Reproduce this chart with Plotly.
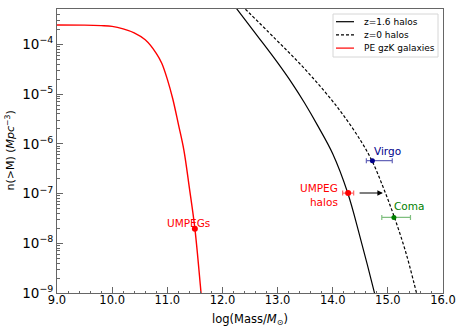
import numpy as np
import plotly.graph_objects as go

# curves (log10 mass, log10 n(>M))
gal_mass = [9.0, 9.5, 9.8, 10.0, 10.2, 10.4, 10.6, 10.8, 10.9, 11.0, 11.1, 11.2, 11.3, 11.4, 11.5, 11.6, 11.62]
gal_logn = [-3.612, -3.615, -3.625, -3.64, -3.69, -3.77, -3.91, -4.18, -4.38, -4.70, -5.10, -5.60, -6.12, -6.88, -7.70, -8.85, -9.1]

z16_mass = [12.2, 12.64, 13.0, 13.26, 13.49, 13.73, 14.0, 14.27, 14.49, 14.76, 14.8]
z16_logn = [-3.20, -3.84, -4.37, -4.78, -5.18, -5.64, -6.20, -6.98, -7.85, -9.01, -9.2]

z0_mass = [12.35, 12.95, 13.43, 13.855, 14.19, 14.52, 14.72, 14.91, 15.11, 15.33, 15.52, 15.56]
z0_logn = [-3.22, -3.88, -4.42, -4.95, -5.42, -5.96, -6.36, -6.86, -7.45, -8.2, -9.0, -9.17]

# points
umpeg_mass, umpeg_logn = 11.5, -7.71
halo_mass, halo_logn, halo_err = 14.28, -6.99, 0.1
virgo_mass, virgo_logn, virgo_lo, virgo_hi = 14.72, -6.34, 0.11, 0.36
coma_mass, coma_logn, coma_lo, coma_hi = 15.11, -7.48, 0.22, 0.30
arrow_start, arrow_end = 14.46, 14.91

ytick_exp = [-9, -8, -7, -6, -5, -4]

legend_names = ['z=1.6 halos', 'z=0 halos', 'PE gzK galaxies']
legend_dash = ['solid', '3px,2px', 'solid']
legend_color = ['black', 'black', 'red']

FONT = "DejaVu Sans"
W, H = 463, 327
L, R, T, B = 57, 20, 9, 34
PW, PH = W - L - R, H - T - B


def px2paper(px, py):
    return (px - L) / PW, (H - B - py) / PH


fig = go.Figure()
fig.add_trace(go.Scatter(x=z16_mass, y=10 ** np.array(z16_logn), mode='lines', name=legend_names[0],
                         line=dict(color='black', width=1.2, shape='spline')))
fig.add_trace(go.Scatter(x=z0_mass, y=10 ** np.array(z0_logn), mode='lines', name=legend_names[1],
                         line=dict(color='black', width=1.2, dash='3px,2px', shape='spline')))
fig.add_trace(go.Scatter(x=gal_mass, y=10 ** np.array(gal_logn), mode='lines', name=legend_names[2],
                         line=dict(color='red', width=1.4, shape='spline')))

fig.add_trace(go.Scatter(x=[umpeg_mass], y=[10 ** umpeg_logn], mode='markers', showlegend=False,
                         marker=dict(color='red', size=6)))
fig.add_trace(go.Scatter(x=[halo_mass], y=[10 ** halo_logn], mode='markers', showlegend=False,
                         marker=dict(color='red', size=6),
                         error_x=dict(type='constant', value=halo_err, color='rgba(255,0,0,0.6)',
                                      thickness=1.2, width=2.5)))
fig.add_trace(go.Scatter(x=[virgo_mass], y=[10 ** virgo_logn], mode='markers', showlegend=False,
                         marker=dict(color='#00008b', size=5),
                         error_x=dict(type='data', array=[virgo_hi], arrayminus=[virgo_lo],
                                      color='rgba(0,0,139,0.6)', thickness=1.2, width=2.5)))
fig.add_trace(go.Scatter(x=[coma_mass], y=[10 ** coma_logn], mode='markers', showlegend=False,
                         marker=dict(color='green', size=5),
                         error_x=dict(type='data', array=[coma_hi], arrayminus=[coma_lo],
                                      color='rgba(0,128,0,0.5)', thickness=1.2, width=2.5)))

ann_font = dict(family=FONT, size=10.5)
fig.add_annotation(x=11.38, y=-7.59, text='UMPEGs', showarrow=False, font=dict(color='red', **ann_font))
fig.add_annotation(x=14.14, y=-7.02, text='UMPEG<br>halos', showarrow=False, xanchor='right',
                   align='right', font=dict(color='red', **ann_font))
fig.add_annotation(x=14.99, y=-6.15, text='Virgo', showarrow=False, font=dict(color='#00008b', **ann_font))
fig.add_annotation(x=15.39, y=-7.25, text='Coma', showarrow=False, font=dict(color='green', **ann_font))
fig.add_annotation(x=arrow_end, y=halo_logn, ax=arrow_start, ay=halo_logn, axref='x', ayref='y',
                   text='', showarrow=True, arrowhead=2, arrowsize=1, arrowwidth=1.1, arrowcolor='black')

# axis titles as annotations so they sit where the reference has them
fig.add_annotation(xref='paper', yref='paper', x=0.5, y=0, yshift=-17, yanchor='top',
                   text='log(Mass/<i>M</i><sub>⊙</sub>)', showarrow=False,
                   font=dict(family=FONT, size=11.5))
fig.add_annotation(xref='paper', yref='paper', x=0, y=0.5, xshift=-38, xanchor='right',
                   text='n(>M) (<i>Mpc</i><sup>−3</sup>)', showarrow=False, textangle=-90,
                   font=dict(family=FONT, size=11))

# legend drawn by hand (matplotlib-style compact box)
x0, y0 = px2paper(333, 14)
x1, y1 = px2paper(438, 57)
fig.add_shape(type='rect', xref='paper', yref='paper', x0=x0, y0=y0, x1=x1, y1=y1,
              line=dict(color='#d6d6d6', width=1), fillcolor='rgba(255,255,255,0.85)', layer='above')
for i, name in enumerate(legend_names):
    py = 21.7 + 13.2 * i
    lx0, ly = px2paper(336, py)
    lx1, _ = px2paper(354, py)
    tx, _ = px2paper(362, py)
    fig.add_shape(type='line', xref='paper', yref='paper', x0=lx0, x1=lx1, y0=ly, y1=ly,
                  line=dict(color=legend_color[i], width=1.2, dash=legend_dash[i]), layer='above')
    fig.add_annotation(xref='paper', yref='paper', x=tx, y=ly, xanchor='left', yanchor='middle',
                       text=name, showarrow=False, font=dict(family=FONT, size=9, color='black'))

axis_common = dict(showgrid=False, zeroline=False, showline=True, linecolor='#666', linewidth=1,
                   mirror=True, ticks='inside', tickcolor='#666', ticklen=6,
                   tickfont=dict(family=FONT, size=11.5, color='black'))

fig.update_xaxes(range=[9, 16], tickvals=list(np.arange(9, 16.01, 1.0)), tickformat='.1f',
                 minor=dict(ticks='inside', dtick=0.2, ticklen=2, tickcolor='#666'),
                 ticklabelstandoff=-4, **axis_common)
fig.update_yaxes(type='log', range=[-9, -3.29],
                 tickvals=[10.0 ** e for e in ytick_exp],
                 ticktext=['10<sup>−%d</sup>' % (-e) for e in ytick_exp],
                 minor=dict(ticks='inside', ticklen=3, tickcolor='#666', dtick='D1'),
                 **{**axis_common, 'tickfont': dict(family=FONT, size=13.5, color='black')})

fig.update_layout(width=W, height=H, margin=dict(l=L, r=R, t=T, b=B, autoexpand=False),
                  plot_bgcolor='white', paper_bgcolor='white', showlegend=False,
                  font=dict(family=FONT, color='black'))

fig.write_html("out.html", config={'displayModeBar': False},
               post_script="document.body.style.margin='0';")
